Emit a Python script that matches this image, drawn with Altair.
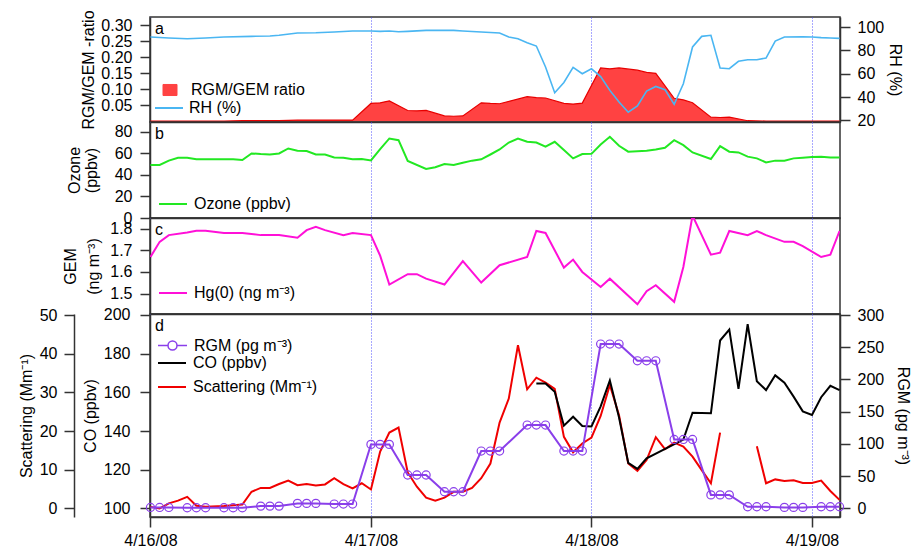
import altair as alt
import pandas as pd

FONT = "Liberation Sans"
FRAME = "#333333"
GRID = "#5050ff"

# ---- x axis (hours since 4/16/08 00:00) ----
DAY_HOURS = [0, 24, 48, 72]
DAY_LABELS = ["4/16/08", "4/17/08", "4/18/08", "4/19/08"]
XDOM = [-0.05, 75.05]

# ---- panel a ----
RATIO_H = [0, 2, 4, 6, 8, 10, 12, 14, 16, 18, 20, 22, 24, 25, 26, 28, 29, 30, 32, 33, 34, 36, 37, 38,
           41, 42, 43, 45, 46, 47, 49, 50, 51, 53, 54, 55, 57, 58, 59, 61, 62, 63, 65, 67, 69, 71, 73, 75]
RATIO_V = [0.001, 0.001, 0.001, 0.001, 0.001, 0.002, 0.002, 0.002, 0.004, 0.004, 0.004, 0.004,
           0.056, 0.058, 0.064, 0.034, 0.033, 0.034, 0.017, 0.016, 0.017, 0.058, 0.056, 0.055,
           0.077, 0.074, 0.073, 0.056, 0.054, 0.057, 0.167, 0.164, 0.167, 0.160, 0.153, 0.150,
           0.072, 0.067, 0.058, 0.013, 0.012, 0.013, 0.002, 0.001, 0.001, 0.001, 0.001, 0.001]

RH_H = [0, 2, 4, 6, 8, 11, 13, 14, 16, 18, 20, 22, 24, 25, 26, 27, 28, 30, 33, 34, 36, 38, 39, 40, 41,
        42, 43, 44, 45, 46, 47, 48, 49, 50, 51, 52, 53, 54, 55, 56, 57, 58, 59, 60, 61, 62, 63, 64, 65,
        66, 67, 68, 69, 71, 72, 73, 74, 75]
RH_V = [91.4, 90.6, 90.0, 90.6, 91.4, 92.0, 92.3, 92.9, 94.9, 95.1, 95.7, 96.6, 96.6, 96.3, 96.6, 95.9,
        96.3, 97.1, 97.1, 96.6, 95.7, 94.9, 91.4, 90.0, 86.6, 83.7, 65.7, 43.7, 52.5, 65.5, 60.0, 64.2,
        57.5, 45.7, 35.7, 27.0, 32.3, 45.1, 49.1, 46.3, 33.7, 51.4, 82.9, 92.0, 92.9, 64.9, 64.3, 70.6,
        72.0, 72.0, 73.4, 88.0, 91.4, 91.6, 91.4, 90.9, 90.6, 90.3]

# ---- panel b ----
O3_H = [0, 1, 2, 3, 4, 5, 7, 9, 10, 11, 12, 13, 14, 15, 16, 17, 18, 19, 20, 21, 22, 23, 24, 25, 26, 27,
        28, 30, 31, 32, 33, 34, 35, 36, 37, 38, 39, 40, 41, 42, 43, 44, 45, 46, 47, 48, 49, 50, 51, 52,
        54, 55, 56, 57, 58, 59, 61, 62, 63, 64, 65, 66, 67, 68, 69, 70, 71, 72, 73, 74, 75]
O3_V = [49.3, 49.3, 53.3, 56.0, 56.0, 54.5, 54.5, 54.5, 53.9, 60.0, 59.4, 59.0, 60.0, 64.6, 62.5, 62.2,
        59.0, 59.0, 56.3, 56.0, 54.5, 54.8, 53.5, 64.0, 73.9, 72.3, 53.0, 45.6, 47.1, 50.2, 49.3, 51.4,
        53.3, 54.5, 59.0, 63.7, 70.1, 73.9, 70.8, 70.1, 66.2, 70.8, 63.1, 55.4, 59.4, 59.6, 68.3, 75.4,
        67.1, 61.6, 62.5, 63.7, 65.3, 72.3, 67.7, 60.9, 54.8, 66.8, 61.6, 60.9, 57.0, 55.4, 51.7, 53.3,
        53.3, 55.4, 56.0, 56.6, 57.0, 56.3, 56.3]

# ---- panel c ----
GEM_H = [0, 1, 2, 4, 5, 6, 8, 10, 12, 14, 16, 17, 18, 19, 21, 22, 24, 25, 26, 28, 29, 30, 32, 34, 36,
         38, 41, 42, 43, 45, 46, 47, 49, 50, 53, 54, 55, 57, 58, 59, 61, 62, 63, 65, 66, 67, 69, 70, 71,
         73, 74, 75]
GEM_V = [1.669, 1.739, 1.770, 1.782, 1.790, 1.790, 1.780, 1.780, 1.770, 1.770, 1.758, 1.793, 1.808,
         1.793, 1.770, 1.780, 1.770, 1.675, 1.542, 1.590, 1.590, 1.569, 1.542, 1.650, 1.551, 1.631,
         1.669, 1.789, 1.780, 1.620, 1.657, 1.600, 1.531, 1.569, 1.451, 1.511, 1.539, 1.462, 1.623,
         1.860, 1.680, 1.689, 1.789, 1.770, 1.789, 1.770, 1.739, 1.739, 1.719, 1.669, 1.680, 1.789]

# ---- panel d ----
RGM_H = [0, 1, 2, 4, 5, 6, 8, 9, 10, 12, 13, 14, 16, 17, 18, 20, 21, 22, 24, 25, 26, 28, 29, 30, 32,
         33, 34, 36, 37, 38, 41, 42, 43, 45, 46, 47, 49, 50, 51, 53, 54, 55, 57, 58, 59, 61, 62, 63,
         65, 66, 67, 69, 70, 71, 73, 74, 75]
RGM_V = [1.5, 1.5, 1.5, 1, 1, 1, 1, 1, 1, 3.6, 3.6, 3.6, 7.8, 7.8, 7.8, 6.8, 6.8, 6.8, 99.3, 99.3, 99.3,
         51.8, 51.8, 51.8, 25.9, 25.9, 25.9, 89, 89, 89, 129.3, 129.3, 129.3, 89, 89, 89, 255, 255, 255,
         229, 229, 229, 107, 107, 107, 21, 21, 21, 2.6, 2.6, 2.6, 1.6, 1.6, 1.6, 2.6, 2.6, 2.6]

CO_H = [42, 43, 44, 45, 46, 47, 48, 49, 50, 51, 52, 53, 54, 58, 59, 61, 62, 63, 64, 65, 66, 67, 68, 69,
        70, 71, 72, 73, 74, 75]
CO_V = [164.6, 164.6, 160.3, 142.8, 147.4, 142.6, 142.4, 152.8, 166.2, 147.0, 123.6, 120.5, 125.9,
        135.6, 149.5, 149.2, 186.8, 192.4, 161.8, 195.2, 165.8, 161.2, 168.8, 165.0, 157.8, 150.2,
        148.3, 157.5, 163.4, 161.2]

SCAT_H = [0, 1, 2, 3, 4, 5, 6, 8, 10, 11, 12, 13, 14, 15, 16, 17, 18, 19, 20, 21, 22, 23, 24, 25, 26,
          27, 28, 29, 30, 31, 32, 33, 34, 35, 36, 37, 38, 39, 40, 41, 42, 43, 44, 45, 46, 47, 48, 49,
          50, 51, 52, 53, 54, 55, 56, 57, 58, 59, 60, 61, 62, 63, 66, 67, 68, 69, 70, 71, 72, 73, 74, 75]
SCAT_V = [0.4, 0.0, 1.3, 2.0, 3.0, 0.7, 0.4, 0.6, 1.0, 4.3, 5.3, 5.3, 6.3, 7.2, 6.0, 6.3, 5.9, 6.2,
          7.8, 6.3, 5.2, 6.5, 4.9, 14.7, 19.6, 20.9, 9.3, 5.6, 2.8, 2.0, 2.8, 4.3, 4.3, 5.3, 7.8, 11.6,
          22.2, 28.4, 42.2, 30.8, 33.8, 32.5, 30.9, 18.5, 14.5, 16.8, 18.3, 23.9, 31.9, 24.1, 11.6, 9.7,
          12.5, 18.4, 15.3, 17.0, 16.0, 13.4, 9.9, 6.5, 19.6, None, 16.1, 6.5, 7.5, 7.1, 7.3, 6.6, 6.6,
          7.2, 4.5, 2.2]

LABEL_EXPR = " : ".join(f"datum.value == {h} ? '{l}'" for h, l in zip(DAY_HOURS, DAY_LABELS)) + " : ''"

W = 690


def xenc(bottom):
    common = dict(values=DAY_HOURS, grid=True, gridColor=GRID, gridDash=[1, 2], gridWidth=1,
                  title=None, domainColor=FRAME, domainWidth=1.5)
    if bottom:
        axis = alt.Axis(labels=True, ticks=True, tickSize=10, tickColor=FRAME, tickWidth=1.5,
                        labelPadding=5, labelExpr=LABEL_EXPR, labelFlush=False, **common)
    else:
        axis = alt.Axis(labels=False, ticks=False, **common)
    return alt.X("h:Q", scale=alt.Scale(domain=XDOM, nice=False, zero=False), axis=axis)


def yenc(domain, orient, values, title, fmt=None, label_pad=8, title_pad=4, offset=None, lh=17):
    kw = dict(orient=orient, values=values, title=title, labelPadding=label_pad,
              titlePadding=title_pad, grid=False, tickSize=10, titleLineHeight=lh)
    if fmt:
        kw["format"] = fmt
    if offset is not None:
        kw["offset"] = offset
    return alt.Y("v:Q", scale=alt.Scale(domain=domain, nice=False, zero=False), axis=alt.Axis(**kw))


def legend(x, y, sym, size, offset, sw=2, **extra):
    return alt.Legend(orient="none", legendX=x, legendY=y, title=None, symbolType=sym,
                      symbolSize=size, symbolStrokeWidth=sw, labelOffset=offset, padding=0,
                      labelFontSize=16, labelFont=FONT, labelColor="black", symbolOpacity=1,
                      **extra)


def cenc(name, colr, leg):
    return alt.Color("s:N", scale=alt.Scale(domain=[name], range=[colr]), legend=leg)


def letter(ch):
    return alt.Chart(pd.DataFrame({"t": [ch]})).mark_text(
        align="left", baseline="alphabetic", fontSize=16, font=FONT, color="black"
    ).encode(text="t:N", x=alt.value(5), y=alt.value(17))


def frame(h, v, name):
    return pd.DataFrame({"h": h, "v": v, "s": name})


RECT_PATH = "M-1,-0.79H1V0.79H-1Z"
RGM_PATH = ("M-1,0H-0.31M0.31,0H1M-0.31,0A0.31,0.31 0 1,1 0.31,0"
            "A0.31,0.31 0 1,1 -0.31,0")

N_RATIO = "RGM/GEM ratio"
N_RH = "RH (%)"
N_O3 = "Ozone (ppbv)"
N_GEM = "Hg(0) (ng m\u207b\u00b3)"
N_RGM = "RGM (pg m\u207b\u00b3)"
N_CO = "CO (ppbv)"
N_SCAT = "Scattering (Mm\u207b\u00b9)"

# ---------------- panel a ----------------
area = alt.Chart(frame(RATIO_H, RATIO_V, N_RATIO)).mark_area(
    fill="#FF4242", opacity=1, line=alt.OverlayMarkDef(stroke="#E80000", strokeWidth=1.2)
).encode(
    x=xenc(False),
    y=yenc([-0.002, 0.326], "left", [0.05, 0.10, 0.15, 0.20, 0.25, 0.30], "RGM/GEM -ratio",
           fmt=".2f", label_pad=8, title_pad=4),
    color=cenc(N_RATIO, "#FF4242",
               legend(12, 65, RECT_PATH, 196, 13, sw=1, symbolStrokeColor="#E80000")),
)
rh = alt.Chart(frame(RH_H, RH_V, N_RH)).mark_line(strokeWidth=1.6).encode(
    x=xenc(False),
    y=yenc([18.6, 108.6], "right", [20, 40, 60, 80, 100], "RH (%)", label_pad=7, title_pad=3),
    color=cenc(N_RH, "#4AB6F2", legend(4, 76, "stroke", 784, 5)),
)
panel_a = alt.layer(area, rh, letter("a")).resolve_scale(
    y="independent", color="independent").properties(width=W, height=105)

# ---------------- panel b ----------------
ozone = alt.Chart(frame(O3_H, O3_V, N_O3)).mark_line(strokeWidth=2).encode(
    x=xenc(False),
    y=yenc([0, 89.2], "left", [0, 20, 40, 60, 80], ["Ozone", "(ppbv)"], label_pad=8, title_pad=15),
    color=cenc(N_O3, "#22E822", legend(8, 67, "stroke", 784, 6)),
)
panel_b = alt.layer(ozone, letter("b")).resolve_scale(
    y="independent", color="independent").properties(width=W, height=96)

# ---------------- panel c ----------------
gem = alt.Chart(frame(GEM_H, GEM_V, N_GEM)).mark_line(strokeWidth=2, clip=True).encode(
    x=xenc(False),
    y=yenc([1.406, 1.849], "left", [1.5, 1.6, 1.7, 1.8], ["GEM", "(ng m\u207b\u00b3)"], fmt=".1f",
           label_pad=8, title_pad=8, lh=23),
    color=cenc(N_GEM, "#FF10D8", legend(8, 60, "stroke", 784, 6)),
)
panel_c = alt.layer(gem, letter("c")).resolve_scale(
    y="independent", color="independent").properties(width=W, height=96)

# ---------------- panel d ----------------
scat_df = frame(SCAT_H, SCAT_V, N_SCAT)
scat_df["seg"] = scat_df["v"].isna().cumsum()
scat_df = scat_df.dropna()

scat = alt.Chart(scat_df).mark_line(strokeWidth=2).encode(
    x=xenc(True),
    y=yenc([-2.22, 50.26], "left", [0, 10, 20, 30, 40, 50], "Scattering (Mm\u207b\u00b9)",
           label_pad=7, title_pad=5, offset=76),
    detail="seg:N",
    color=cenc(N_SCAT, "#F00000", legend(7, 58, "stroke", 784, 6)),
)
co = alt.Chart(frame(CO_H, CO_V, N_CO)).mark_line(strokeWidth=2).encode(
    x=xenc(True),
    y=yenc([95.6, 200.5], "left", [100, 120, 140, 160, 180, 200], "CO (ppbv)",
           label_pad=10, title_pad=5),
    color=cenc(N_CO, "#000000", legend(7, 34, "stroke", 784, 6)),
)
rgm = alt.Chart(frame(RGM_H, RGM_V, N_RGM)).mark_line(
    strokeWidth=2, point=alt.OverlayMarkDef(filled=False, size=66, strokeWidth=1.2)
).encode(
    x=xenc(True),
    y=yenc([-13.3, 301.6], "right", [0, 50, 100, 150, 200, 250, 300], "RGM (pg m\u207b\u00b3)",
           label_pad=7, title_pad=11),
    color=cenc(N_RGM, "#8A3FEA",
               legend(7, 16, RGM_PATH, 841, 6, sw=1.5, symbolFillColor="transparent")),
)
panel_d = alt.layer(scat, co, rgm, letter("d")).resolve_scale(
    y="independent", color="independent").properties(width=W, height=203)

chart = alt.vconcat(panel_a, panel_b, panel_c, panel_d, spacing=0, bounds="flush").resolve_scale(
    color="independent", x="independent"
).properties(
    padding={"left": 17, "top": 9, "right": 0, "bottom": 0}
).configure_view(
    stroke=FRAME, strokeWidth=1.5
).configure_axis(
    labelFont=FONT, titleFont=FONT, labelFontSize=16, titleFontSize=16, titleFontWeight="normal",
    labelColor="black", titleColor="black", tickColor=FRAME, domainColor=FRAME, tickWidth=1.5,
    domainWidth=1.5
)

chart.save("out.html", embed_options={"renderer": "svg", "actions": False})
